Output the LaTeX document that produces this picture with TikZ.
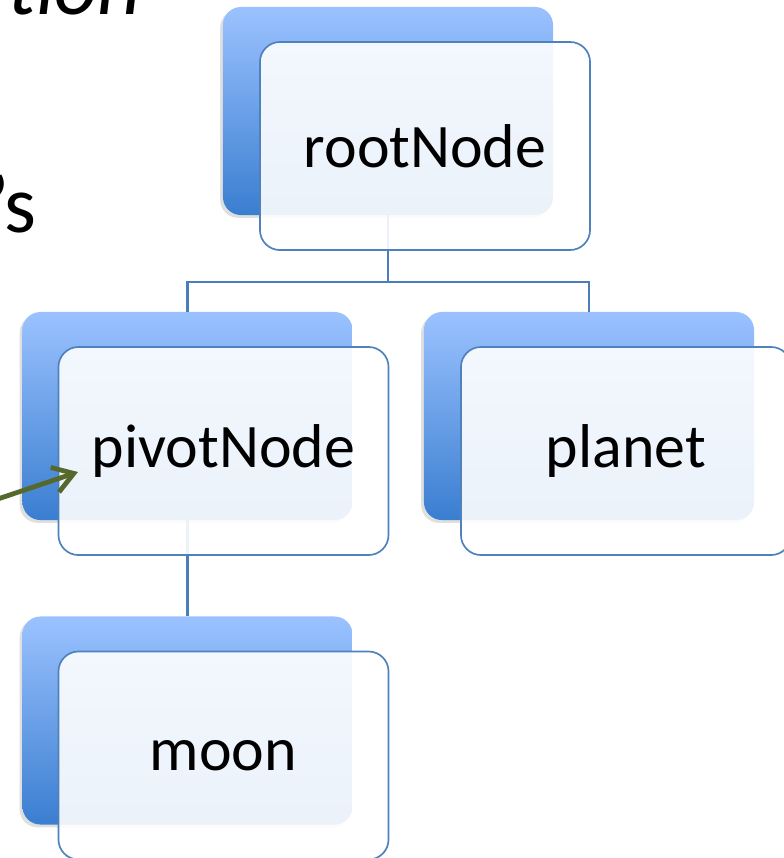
\documentclass[tikz,border=0pt]{standalone}
\usepackage{fontspec}
\setmainfont{Carlito}
\usetikzlibrary{shadows,arrows.meta}

\definecolor{boxtop}{RGB}{155,194,255}
\definecolor{boxbottom}{RGB}{58,126,208}
\definecolor{boxline}{RGB}{79,129,189}
\definecolor{linkblue}{RGB}{74,126,187}
\definecolor{pointer}{RGB}{85,105,45}

\begin{document}
\begin{tikzpicture}[x=0.025cm,y=-0.025cm,
        backbox/.style={rounded corners=0.45cm, minimum width=8.25cm, minimum height=5.2cm,
            top color=boxtop, bottom color=boxbottom, draw=none,
            drop shadow={shadow xshift=-2pt, shadow yshift=-2pt, opacity=0.25}},
        frontbox/.style={rounded corners=0.5cm, minimum width=8.25cm, minimum height=5.2cm,
            draw=boxline, line width=1.2pt, fill=white, fill opacity=0.9, text opacity=1,
            font=\fontsize{44}{52}\selectfont},
        slidetext/.style={anchor=base east, inner sep=0pt, font=\fontsize{58}{70}\selectfont},
        link/.style={draw=linkblue, line width=1.5pt}]
        % Frame of the picture
        \useasboundingbox (0,0) rectangle (784,858);
        \clip (0,0) rectangle (784,858);

        % Slide text behind the tree
        \node[slidetext, font=\fontsize{60}{72}\selectfont\itshape] (word) at (141,14) {ation};
        \node[slidetext] (poss) at (37,232) {’s};

        % Back boxes
        \node[backbox] (rootB) at (388,111) {};
        \node[backbox] (pivotB) at (187.5,416) {};
        \node[backbox] (planetB) at (589,416) {};
        \node[backbox] (moonB) at (187.5,720.5) {};

        % Tree links, below the front boxes
        \draw[link] (rootB.south) -- ++(0,67) -| (pivotB.north);
        \draw[link] (rootB.south) -- ++(0,67) -| (planetB.north);
        \draw[link] (pivotB.south) -- (moonB.north);

        % Front boxes with the labels
        \node[frontbox] (root) at ([shift={(37,35)}]rootB) {rootNode};
        \node[frontbox] (pivot) at ([shift={(36,35)}]pivotB) {pivotNode};
        \node[frontbox] (planet) at ([shift={(37,35)}]planetB) {planet};
        \node[frontbox] (moon) at ([shift={(36,35)}]moonB) {moon};

        % Pointer into pivotNode
        \coordinate (tail) at (-20,505);
        \coordinate (tip) at (78,472);
        \draw[pointer, line width=3.4pt, -{Straight Barb[length=5mm,width=6.5mm]}] (tail) -- (tip);
\end{tikzpicture}
\end{document}
